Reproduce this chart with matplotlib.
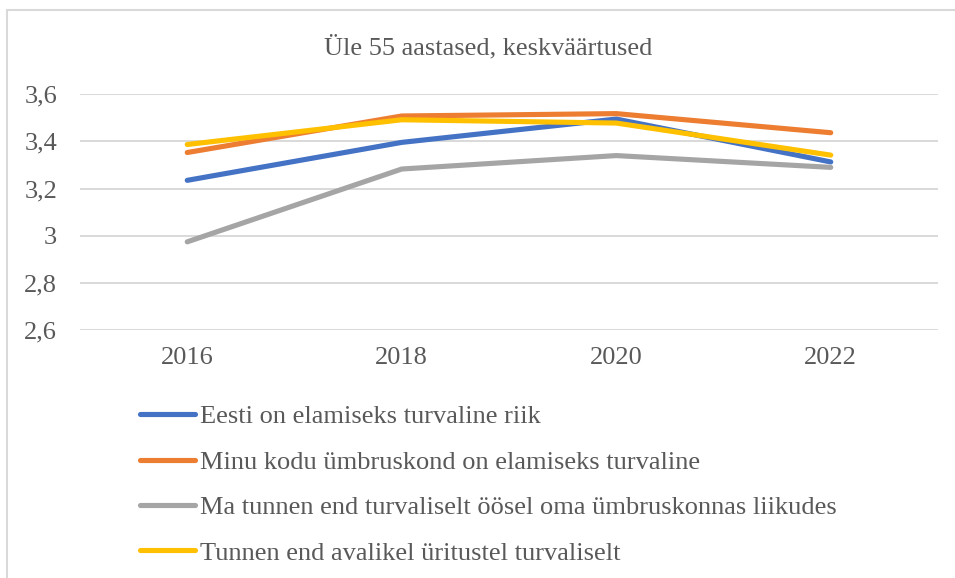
import matplotlib.pyplot as plt
from matplotlib.patches import Rectangle
from matplotlib.ticker import FuncFormatter

plt.rcParams["font.family"] = "Liberation Serif"

years = ["2016", "2018", "2020", "2022"]
eesti = [3.235, 3.396, 3.495, 3.313]
kodu = [3.353, 3.508, 3.518, 3.437]
oosel = [2.974, 3.283, 3.340, 3.290]
uritused = [3.387, 3.492, 3.478, 3.342]

labels = ["Eesti on elamiseks turvaline riik",
          "Minu kodu ümbruskond on elamiseks turvaline",
          "Ma tunnen end turvaliselt öösel oma ümbruskonnas liikudes",
          "Tunnen end avalikel üritustel turvaliselt"]
colors = ["#4472C4", "#ED7D31", "#A5A5A5", "#FFC000"]
txt = "#595959"

fig = plt.figure(figsize=(9.55, 5.78), dpi=100)
W, H = 955, 578
ax = fig.add_axes([80 / W, 1 - 330 / H, 858 / W, (330 - 94.3) / H])

x = range(len(years))
for vals, lab, c in zip([eesti, kodu, oosel, uritused], labels, colors):
    ax.plot(x, vals, color=c, lw=3.7, solid_capstyle="round",
            solid_joinstyle="round", label=lab)

ax.set_xlim(-0.5, 3.5)
ax.set_ylim(2.6, 3.6)
ax.set_yticks([2.6, 2.8, 3.0, 3.2, 3.4, 3.6])
ax.yaxis.set_major_formatter(FuncFormatter(lambda v, p: f"{v:g}".replace(".", ",")))
ax.set_xticks(list(x))
ax.set_xticklabels(years)
ax.grid(axis="y", color="#D9D9D9", lw=1.4)
ax.set_axisbelow(True)
for s in ax.spines.values():
    s.set_visible(False)
ax.tick_params(length=0, labelsize=19, labelcolor=txt)
ax.tick_params(axis="y", pad=16.5)
ax.tick_params(axis="x", pad=12)

fig.text(488 / W, 1 - 47 / H, "Üle 55 aastased, keskväärtused",
         ha="center", va="center", fontsize=19, color=txt)

leg = fig.legend(loc="upper left", bbox_to_anchor=(140 / W, 1 - 405 / H),
                 frameon=False, fontsize=19, handlelength=2.08,
                 handletextpad=0.19, labelspacing=0.83, borderaxespad=0,
                 borderpad=0)
for t in leg.get_texts():
    t.set_color(txt)

fig.patches.append(Rectangle((7 / W, -0.1), 1.1, 1 - 10 / H + 0.1,
                             transform=fig.transFigure, fill=False,
                             edgecolor="#D9D9D9", lw=1.5))

plt.savefig("out.png", dpi=100)
